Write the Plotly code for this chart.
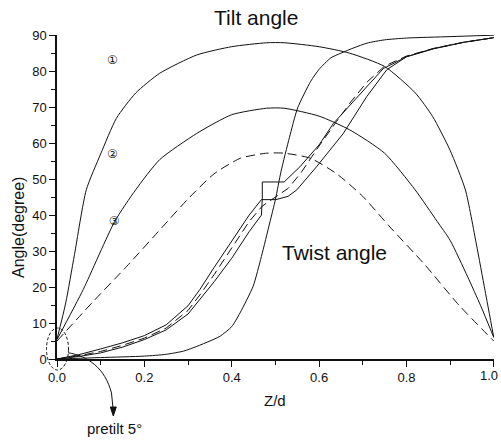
import plotly.graph_objects as go

# ---------------- data ----------------
# Tilt angle profiles
tilt1_z = [0, 0.02, 0.04, 0.067, 0.1, 0.136, 0.18, 0.235, 0.32, 0.4, 0.48, 0.52, 0.6, 0.67, 0.75, 0.82, 0.86, 0.9, 0.935, 0.96, 0.98, 1.0]
tilt1_a = [5.5, 15.6, 29, 47, 57, 66.9, 73.9, 79.4, 84.5, 86.8, 87.9, 87.9, 86.8, 85, 81.3, 74, 67.4, 58, 47, 32, 19, 6]

tilt2_z = [0, 0.06, 0.132, 0.18, 0.235, 0.32, 0.4, 0.48, 0.52, 0.6, 0.67, 0.75, 0.82, 0.87, 0.9, 0.94, 0.97, 1.0]
tilt2_a = [5.4, 19.3, 38.2, 47, 55.4, 62.7, 67.9, 69.7, 69.7, 67.5, 63.7, 57.2, 47, 38.3, 33, 22.9, 14.8, 6]

tilt3_z = [0, 0.08, 0.16, 0.24, 0.3, 0.36, 0.42, 0.48, 0.52, 0.58, 0.64, 0.7, 0.76, 0.84, 0.92, 1.0]
tilt3_a = [5, 15.6, 25.8, 36.5, 44.5, 51.5, 55.8, 57.2, 57.2, 55.8, 51.5, 45.2, 37, 26.5, 15, 5]

# Twist angle profiles
tw1_z = [0, 0.1, 0.2, 0.25, 0.29, 0.32, 0.35, 0.373, 0.4, 0.419, 0.449, 0.468, 0.487, 0.5, 0.513, 0.532, 0.551, 0.581, 0.6, 0.627, 0.65, 0.68, 0.71, 0.75, 0.8, 0.9, 1.0]
tw1_a = [0, 0.4, 0.8, 1.3, 2.2, 3.5, 5, 6.3, 9, 12.8, 20.2, 28.5, 37.8, 44.3, 52.2, 61.5, 69.8, 77.2, 80.5, 83.7, 85, 86.5, 87.8, 88.7, 89.2, 89.6, 90]

tw2_z = [0, 0.05, 0.1, 0.15, 0.2, 0.25, 0.3, 0.327, 0.36, 0.4, 0.44, 0.468, 0.47, 0.47, 0.52, 0.556, 0.6, 0.633, 0.694, 0.747, 0.8, 0.862, 0.93, 1.0]
tw2_a = [0, 0.7, 1.7, 3.3, 5.4, 8.1, 12.5, 16.5, 21.5, 28, 35.4, 40, 44.5, 49.2, 49.2, 53.4, 59.5, 65.5, 73.8, 80.7, 84, 86.2, 88, 89.3]

tw3_z = [0, 0.05, 0.1, 0.15, 0.2, 0.25, 0.3, 0.327, 0.36, 0.4, 0.44, 0.47, 0.5, 0.53, 0.56, 0.6, 0.64, 0.673, 0.71, 0.75, 0.8, 0.862, 0.93, 1.0]
tw3_a = [0, 0.9, 2.1, 3.8, 5.8, 8.6, 13.5, 17.8, 23.5, 30.8, 38.2, 42.5, 45, 47.5, 52, 59.2, 66, 71.5, 77, 81.4, 84.2, 86.3, 88, 89.3]

tw4_z = [0, 0.05, 0.1, 0.15, 0.2, 0.25, 0.3, 0.327, 0.36, 0.4, 0.44, 0.468, 0.501, 0.529, 0.549, 0.594, 0.655, 0.709, 0.755, 0.8, 0.862, 0.93, 1.0]
tw4_a = [0, 1.2, 2.8, 4.5, 6.5, 9.5, 14.8, 19.3, 25.5, 32.7, 40, 44.3, 44.3, 45.2, 47, 53.4, 62.6, 72.9, 80.4, 84, 86.3, 88, 89.3]

label_text = ["\u2460", "\u2461", "\u2462"]
label_z = [0.127, 0.127, 0.131]
label_a = [82.9, 56.8, 38.2]

x_ticks = [0.0, 0.2, 0.4, 0.6, 0.8, 1.0]
x_tick_text = ["0.0", "0.2", "0.4", "0.6", "0.8", "1.0"]
y_ticks = [0, 10, 20, 30, 40, 50, 60, 70, 80, 90]

# ---------------- figure ----------------
FONT = "Arial, Liberation Sans, sans-serif"
L, W, B, H = 57, 437, 359, 324


def pxx(x):
    return (x - L) / W


def pyy(y):
    return (B - y) / H


fig = go.Figure()
solid = dict(color="#111111", width=1)
solid_s = dict(color="#111111", width=1, shape="spline", smoothing=0.6)
dashed_s = dict(color="#111111", width=1, dash="9px,5px", shape="spline", smoothing=0.6)
dashed = dict(color="#111111", width=1, dash="9px,5px")

series = [
    (tilt1_z, tilt1_a, solid_s),
    (tilt2_z, tilt2_a, solid_s),
    (tilt3_z, tilt3_a, dashed_s),
    (tw1_z, tw1_a, solid_s),
    (tw2_z, tw2_a, solid),
    (tw3_z, tw3_a, dashed),
    (tw4_z, tw4_a, solid),
]
for zs, ys, ln in series:
    fig.add_trace(go.Scatter(x=zs, y=ys, mode="lines", line=ln, showlegend=False,
                             hoverinfo="skip", cliponaxis=False))

fig.add_trace(go.Scatter(x=label_z, y=label_a, mode="text", text=label_text,
                         textfont=dict(family="DejaVu Sans, Noto Sans CJK SC", size=12, color="#111"),
                         showlegend=False, hoverinfo="skip"))

# last x tick label is drawn as an annotation so it stays inside the page
shown_ticktext = x_tick_text[:-1] + [""]
fig.update_xaxes(range=[0, 1.0005], showline=True, linecolor="#111", linewidth=1.5,
                 ticks="outside", ticklen=6, tickwidth=1.2, tickcolor="#111",
                 tickvals=x_ticks, ticktext=shown_ticktext, ticklabeloverflow="allow",
                 automargin=False,
                 minor=dict(ticks="outside", ticklen=4, dtick=0.1, tickcolor="#111"),
                 showgrid=False, zeroline=False,
                 tickfont=dict(family=FONT, size=13, color="#111"))
fig.update_yaxes(range=[0, 90.05], showline=True, linecolor="#111", linewidth=1.5,
                 ticks="outside", ticklen=6, tickwidth=1.2, tickcolor="#111",
                 tickvals=y_ticks, ticklabeloverflow="allow", automargin=False,
                 minor=dict(ticks="outside", ticklen=4, dtick=5, tickcolor="#111"),
                 showgrid=False, zeroline=False,
                 tickfont=dict(family=FONT, size=13, color="#111"))

fig.add_annotation(text=x_tick_text[-1], x=pxx(500), y=pyy(375), xref="paper", yref="paper",
                   showarrow=False, xanchor="right", yanchor="middle",
                   font=dict(family=FONT, size=13, color="#111"))

ann = [
    dict(text="Tilt angle", x=pxx(256), y=pyy(18), size=21, angle=0),
    dict(text="Twist angle", x=pxx(334), y=pyy(252), size=21, angle=0),
    dict(text="Angle(degree)", x=pxx(18), y=pyy(228), size=16, angle=-90),
    dict(text="Z/d", x=pxx(275), y=pyy(401), size=15, angle=0),
    dict(text="pretilt 5\u00b0", x=pxx(114), y=pyy(428), size=15, angle=0),
]
for a in ann:
    fig.add_annotation(text=a["text"], x=a["x"], y=a["y"], xref="paper", yref="paper",
                       showarrow=False, textangle=a["angle"],
                       xanchor="center", yanchor="middle",
                       font=dict(family=FONT, size=a["size"], color="#111"))

# dashed ellipse around the pretilt region
fig.add_shape(type="circle", xref="paper", yref="paper",
              x0=pxx(46.5), x1=pxx(68.5), y0=pyy(370), y1=pyy(328),
              line=dict(color="#111", width=1, dash="3px,2px"))

# curved arrow to "pretilt 5°"
pts = [(68, 352.7), (88, 356), (105, 368), (111.5, 393)]
path = "M {:.4f},{:.4f} C {:.4f},{:.4f} {:.4f},{:.4f} {:.4f},{:.4f} L {:.4f},{:.4f}".format(
    pxx(pts[0][0]), pyy(pts[0][1]), pxx(pts[1][0]), pyy(pts[1][1]),
    pxx(pts[2][0]), pyy(pts[2][1]), pxx(pts[3][0]), pyy(pts[3][1]),
    pxx(113), pyy(408))
fig.add_shape(type="path", xref="paper", yref="paper", path=path,
              line=dict(color="#111", width=1))
head = "M {:.4f},{:.4f} L {:.4f},{:.4f} L {:.4f},{:.4f} Z".format(
    pxx(113.3), pyy(416), pxx(110.3), pyy(407), pxx(116.3), pyy(407))
fig.add_shape(type="path", xref="paper", yref="paper", path=head,
              line=dict(color="#111", width=1), fillcolor="#111")

fig.update_layout(width=501, height=441, margin=dict(l=L, r=501 - L - W, t=35, b=441 - B),
                  paper_bgcolor="white", plot_bgcolor="white",
                  font=dict(family=FONT, color="#111"))

fig.write_html("out.html", config={"displayModeBar": False},
               post_script="document.body.style.margin='0';document.body.style.overflow='hidden';")
